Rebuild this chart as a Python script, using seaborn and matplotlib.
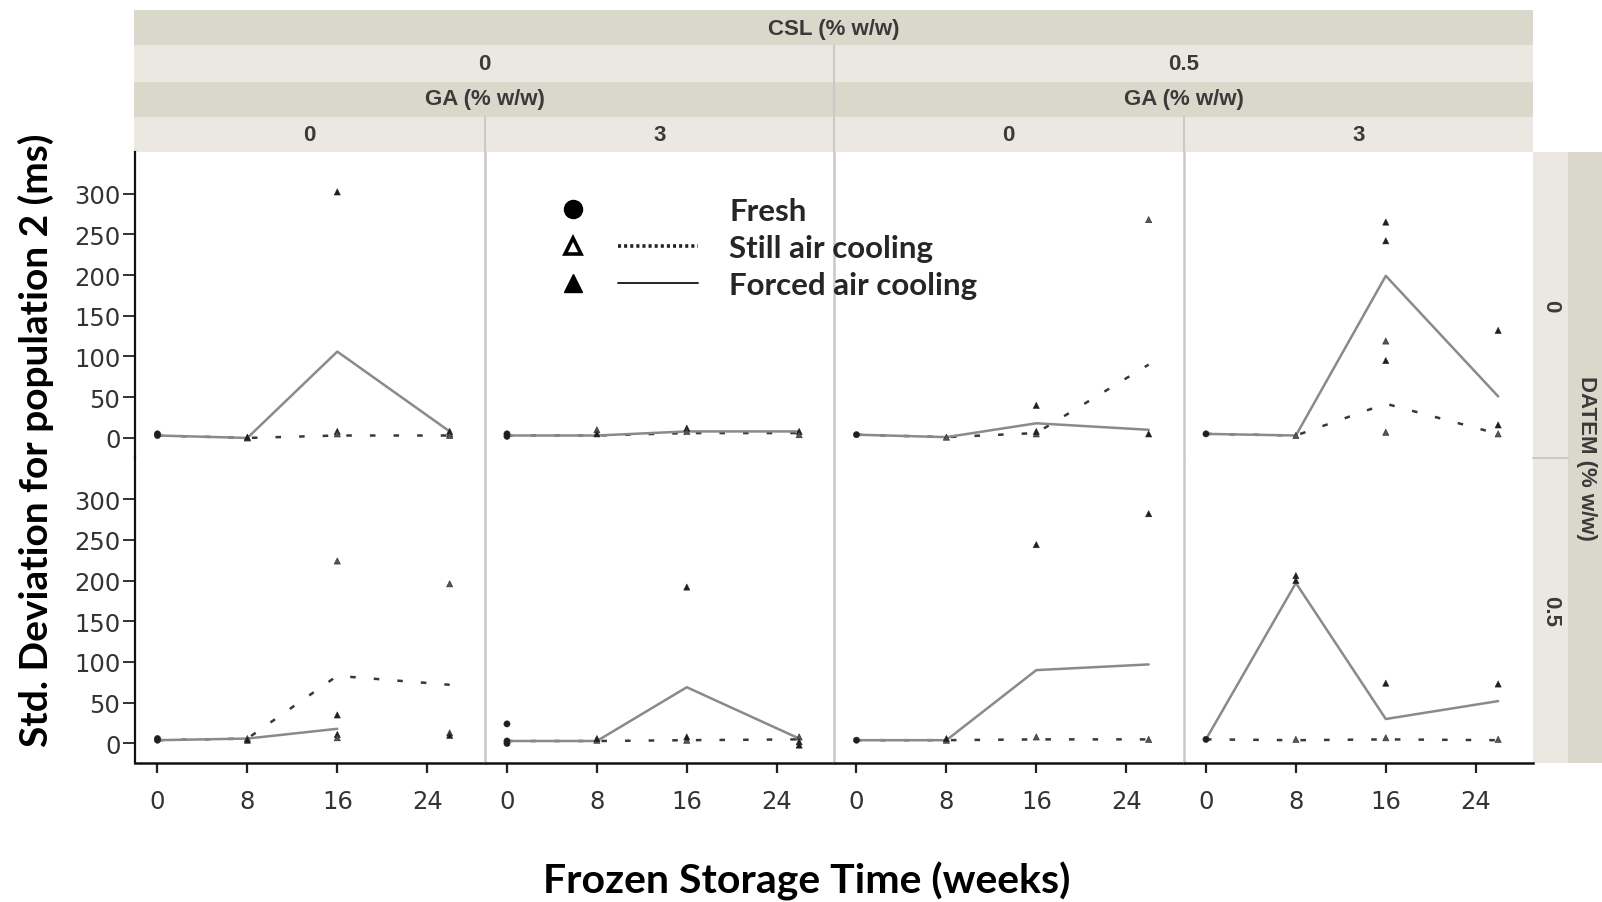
import numpy as np
import pandas as pd
import matplotlib
matplotlib.use("Agg")
import matplotlib.pyplot as plt
from matplotlib.lines import Line2D
from matplotlib.patches import Rectangle
from matplotlib.legend_handler import HandlerTuple
import seaborn as sns

# ---------------------------------------------------------------- data
WEEKS = [0, 8, 16, 26]
XTICKS = [0, 8, 16, 24]
YTICKS = [0, 50, 100, 150, 200, 250, 300]

DATEM_LEVELS = ["0", "0.5"]
CSL_LEVELS = ["0", "0.5"]
GA_LEVELS = ["0", "3"]

# panel key: (DATEM, CSL, GA); mean std. deviation per week (week 0 = fresh)
STILL_MEAN = {
    ("0", "0", "0"): [3, 0, 3, 3],
    ("0", "0", "3"): [3, 3, 6, 6],
    ("0", "0.5", "0"): [4, 1, 6, 90],
    ("0", "0.5", "3"): [5, 3, 42, 5],
    ("0.5", "0", "0"): [4, 6, 83, 72],
    ("0.5", "0", "3"): [3, 3, 4, 5],
    ("0.5", "0.5", "0"): [4, 4, 5, 5],
    ("0.5", "0.5", "3"): [5, 4, 5, 4],
}
FORCED_MEAN = {
    ("0", "0", "0"): [3, 0, 106, 8],
    ("0", "0", "3"): [3, 3, 8, 8],
    ("0", "0.5", "0"): [4, 1, 18, 10],
    ("0", "0.5", "3"): [5, 3, 199, 51],
    ("0.5", "0", "0"): [4, 6, 18, None],
    ("0.5", "0", "3"): [3, 3, 69, 6],
    ("0.5", "0.5", "0"): [4, 4, 90, 97],
    ("0.5", "0.5", "3"): [5, 197, 30, 52],
}
# individual observations: (week, value, treatment)
POINTS = {
    ("0", "0", "0"): [(0, 3, "Fresh"), (0, 5, "Fresh"), (8, 0, "Still"), (8, 1, "Forced"),
                      (16, 302, "Forced"), (16, 8, "Forced"), (16, 5, "Still"),
                      (26, 5, "Still"), (26, 8, "Forced"), (26, 3, "Still")],
    ("0", "0", "3"): [(0, 2, "Fresh"), (0, 5, "Fresh"), (8, 10, "Still"), (8, 5, "Forced"),
                      (16, 12, "Forced"), (16, 8, "Still"), (26, 8, "Forced"), (26, 4, "Still")],
    ("0", "0.5", "0"): [(0, 4, "Fresh"), (8, 1, "Still"), (16, 40, "Forced"), (16, 5, "Still"),
                        (16, 8, "Forced"), (26, 268, "Still"), (26, 5, "Forced")],
    ("0", "0.5", "3"): [(0, 5, "Fresh"), (8, 3, "Still"), (16, 265, "Forced"), (16, 242, "Forced"),
                        (16, 119, "Still"), (16, 95, "Forced"), (16, 7, "Still"),
                        (26, 132, "Forced"), (26, 16, "Forced"), (26, 5, "Still")],
    ("0.5", "0", "0"): [(0, 4, "Fresh"), (0, 6, "Fresh"), (8, 6, "Still"), (8, 4, "Forced"),
                        (16, 224, "Still"), (16, 35, "Forced"), (16, 11, "Forced"), (16, 7, "Still"),
                        (26, 196, "Still"), (26, 13, "Still"), (26, 10, "Forced")],
    ("0.5", "0", "3"): [(0, 24, "Fresh"), (0, 3, "Fresh"), (0, 0, "Fresh"), (8, 4, "Still"),
                        (8, 6, "Forced"), (16, 192, "Forced"), (16, 4, "Still"), (16, 8, "Forced"),
                        (26, 8, "Still"), (26, 2, "Forced"), (26, -2, "Forced")],
    ("0.5", "0.5", "0"): [(0, 4, "Fresh"), (8, 4, "Still"), (8, 6, "Forced"), (16, 244, "Forced"),
                          (16, 8, "Still"), (26, 282, "Forced"), (26, 5, "Still")],
    ("0.5", "0.5", "3"): [(0, 5, "Fresh"), (8, 206, "Forced"), (8, 200, "Forced"), (8, 5, "Still"),
                          (16, 74, "Forced"), (16, 7, "Still"), (26, 73, "Forced"), (26, 5, "Still")],
}

LEGEND_LABELS = ["Fresh", "Still air cooling", "Forced air cooling"]

# ---------------------------------------------------------------- long table
COL_ORDER = [f"{c}|{g}" for c in CSL_LEVELS for g in GA_LEVELS]
rows = []
for (datem, csl, ga), pts in POINTS.items():
    panel = f"{csl}|{ga}"
    for series, table in (("Still", STILL_MEAN), ("Forced", FORCED_MEAN)):
        for w, v in zip(WEEKS, table[(datem, csl, ga)]):
            if v is None:
                continue
            rows.append(dict(DATEM=datem, panel=panel, week=w, value=v,
                             series=series, layer="mean"))
    for w, v, s in pts:
        rows.append(dict(DATEM=datem, panel=panel, week=w, value=v,
                         series=s, layer="obs"))
df = pd.DataFrame(rows)

# ---------------------------------------------------------------- style
sns.set_theme(style="white")
plt.rcParams["font.family"] = ["DejaVu Sans"]
plt.rcParams["lines.scale_dashes"] = False

W, H = 1602, 903
DARK = "#dad8cb"
LIGHT = "#eae8e0"
SEP = "#c9c9c9"
STRIP_FONT = dict(family=["Liberation Sans", "DejaVu Sans"], weight="bold",
                  size=16, color="#3a3a3a")
TITLE_FONT = dict(family=["Lato", "DejaVu Sans"], weight="bold", color="black")

LINE_PALETTE = {"Still": "#383838", "Forced": "#8a8a8a"}
LINE_DASHES = {"Still": (4.0, 13.0), "Forced": ""}
POINT_PALETTE = {"Fresh": "#1e1e1e", "Still": "#555555", "Forced": "#1e1e1e"}
POINT_MARKERS = {"Fresh": "o", "Still": "^", "Forced": "^"}


def draw_panel(data, **kws):
    ax = plt.gca()
    means = data[data["layer"] == "mean"]
    sns.lineplot(data=means, x="week", y="value", hue="series", style="series",
                 hue_order=["Still", "Forced"], style_order=["Still", "Forced"],
                 palette=LINE_PALETTE, dashes=LINE_DASHES, linewidth=1.8,
                 errorbar=None, legend=False, ax=ax, zorder=2)
    obs = data[data["layer"] == "obs"]
    sns.scatterplot(data=obs, x="week", y="value", hue="series", style="series",
                    hue_order=["Fresh", "Still", "Forced"],
                    style_order=["Fresh", "Still", "Forced"],
                    palette=POINT_PALETTE, markers=POINT_MARKERS, s=20,
                    edgecolor="#2a2a2a", linewidth=0.4, legend=False, ax=ax, zorder=3)


g = sns.FacetGrid(df, row="DATEM", col="panel", row_order=DATEM_LEVELS,
                  col_order=COL_ORDER, sharex=True, sharey=True, despine=False,
                  height=3, aspect=1.2)
g.map_dataframe(draw_panel)
g.set_titles("")
g.set_axis_labels("", "")
g.set(xlim=(-2.0, 29.1), ylim=(-24, 351), xticks=XTICKS, yticks=YTICKS)

fig = g.figure
fig.set_size_inches(W / 100, H / 100)
fig.subplots_adjust(left=135 / W, right=1533 / W, top=1 - 153 / H,
                    bottom=1 - 764 / H, wspace=0, hspace=0)

for (r, c), ax in np.ndenumerate(g.axes):
    ax.set_title("")
    ax.set_xlabel("")
    ax.set_ylabel("")
    ax.set_facecolor("white")
    for side in ("top", "right"):
        ax.spines[side].set_visible(False)
    if c == 0:
        ax.spines["left"].set_color("#111111")
        ax.spines["left"].set_linewidth(1.6)
    else:
        ax.spines["left"].set_color(SEP)
        ax.spines["left"].set_linewidth(1.8)
    if r == len(DATEM_LEVELS) - 1:
        ax.spines["bottom"].set_color("#111111")
        ax.spines["bottom"].set_linewidth(1.8)
    else:
        ax.spines["bottom"].set_visible(False)
    ax.tick_params(axis="y", left=(c == 0), labelleft=(c == 0), direction="out",
                   length=8.5, width=1.3, color="#222222", labelsize=17.5,
                   labelcolor="#333333", pad=2)
    ax.tick_params(axis="x", bottom=(r == 1), labelbottom=(r == 1), direction="out",
                   length=7, width=1.6, color="#222222", labelsize=17.5,
                   labelcolor="#333333", pad=12)


# ---------------------------------------------------------------- facet strips
def band(x0, y0, x1, y1, color):
    fig.add_artist(Rectangle((x0 / W, 1 - y1 / H), (x1 - x0) / W, (y1 - y0) / H,
                             transform=fig.transFigure, facecolor=color,
                             edgecolor="none", zorder=0))


def vline(x, y0, y1, color=SEP, lw=1.5):
    fig.add_artist(Line2D([x / W, x / W], [1 - y0 / H, 1 - y1 / H],
                          transform=fig.transFigure, color=color, lw=lw))


def hline(y, x0, x1, color=SEP, lw=1.5):
    fig.add_artist(Line2D([x0 / W, x1 / W], [1 - y / H, 1 - y / H],
                          transform=fig.transFigure, color=color, lw=lw))


def strip_text(x, y, s, rot=0):
    fig.text(x / W, 1 - y / H, s, ha="center", va="center", rotation=rot,
             **STRIP_FONT)


col_edges = np.linspace(135, 1533, len(COL_ORDER) + 1)
col_mid = (col_edges[:-1] + col_edges[1:]) / 2
csl_mid = [(col_edges[0] + col_edges[2]) / 2, (col_edges[2] + col_edges[4]) / 2]

band(134, 11, 1533, 46, DARK)
band(134, 46, 1533, 83, LIGHT)
band(134, 83, 1533, 118, DARK)
band(134, 118, 1533, 153, LIGHT)
vline(col_edges[2], 46, 153)
vline(col_edges[1], 118, 153)
vline(col_edges[3], 118, 153)

strip_text((134 + 1533) / 2, 29, "CSL (% w/w)")
for x, lev in zip(csl_mid, CSL_LEVELS):
    strip_text(x, 65, lev)
    strip_text(x, 100, "GA (% w/w)")
for x, name in zip(col_mid, COL_ORDER):
    strip_text(x, 136, name.split("|")[1])

row_edges = np.linspace(153, 764, len(DATEM_LEVELS) + 1)
band(1533, 153, 1568, 764, LIGHT)
band(1568, 153, 1602, 764, DARK)
hline(row_edges[1], 1533, 1568)
for (y0, y1), lev in zip(zip(row_edges[:-1], row_edges[1:]), DATEM_LEVELS):
    strip_text(1551, (y0 + y1) / 2, lev, rot=270)
strip_text(1586, (153 + 764) / 2, "DATEM (% w/w)", rot=270)

# ---------------------------------------------------------------- axis titles
fig.text(36 / W, 1 - 440 / H, "Std. Deviation for population 2 (ms)",
         rotation=90, ha="center", va="center", size=28, **TITLE_FONT)
fig.text(807 / W, 1 - 881 / H, "Frozen Storage Time (weeks)",
         ha="center", va="center", size=29.5, **TITLE_FONT)

# ---------------------------------------------------------------- legend
blank = Line2D([], [], linestyle="none")
h_fresh = Line2D([], [], linestyle="none", marker="o", markersize=13,
                 color="black")
h_still_m = Line2D([], [], linestyle="none", marker="^", markersize=11,
                   markerfacecolor="white", markeredgecolor="black",
                   markeredgewidth=2.6)
h_still_l = Line2D([], [], color="#222222", lw=2.6, linestyle=(0, (2.2, 2.2)))
h_forced_m = Line2D([], [], linestyle="none", marker="^", markersize=13,
                    color="black")
h_forced_l = Line2D([], [], color="#111111", lw=1.3)

fs = 22.5
px = fs * 100 / 72
fig.legend(handles=[(h_fresh, blank), (h_still_m, h_still_l), (h_forced_m, h_forced_l)],
           labels=LEGEND_LABELS,
           handler_map={tuple: HandlerTuple(ndivide=None, pad=5 / px)},
           loc="center left", bbox_to_anchor=(533 / W, 1 - 249 / H),
           frameon=False, borderpad=0, borderaxespad=0,
           handlelength=165 / px, handletextpad=31 / px,
           labelspacing=0.28,
           prop=dict(family=["Lato", "DejaVu Sans"], weight="bold", size=fs))

fig.savefig("out.png", dpi=100, facecolor="white")
